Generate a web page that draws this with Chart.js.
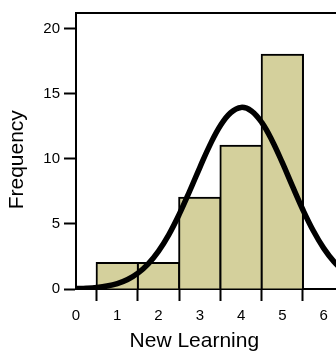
<!DOCTYPE html>
<html>
<head>
<meta charset="utf-8">
<script src="https://cdn.jsdelivr.net/npm/chart.js@4"></script>
<style>
    html, body { margin: 0; padding: 0; background: #fff; }
    #wrap { width: 336px; height: 358px; }
</style>
</head>
<body>
<div id="wrap"><canvas id="histCanvas"></canvas></div>
<script>
// --- Data ---
const binCenters = [1, 2, 3, 4, 5];
const frequencies = [2, 2, 7, 11, 18];

// fitted normal curve, sampled every 0.25
const curveX = [0, 0.25, 0.5, 0.75, 1, 1.25, 1.5, 1.75, 2, 2.25, 2.5, 2.75, 3, 3.25, 3.5, 3.75, 4, 4.25, 4.5, 4.75, 5, 5.25, 5.5, 5.75, 6, 6.25, 6.5];
const curveY = [0.03, 0.06, 0.12, 0.23, 0.42, 0.73, 1.22, 1.93, 2.91, 4.18, 5.73, 7.49, 9.33, 11.09, 12.56, 13.55, 13.95, 13.68, 12.8, 11.41, 9.7, 7.86, 6.07, 4.47, 3.14, 2.1, 1.34];

const xTicks = [0, 1, 2, 3, 4, 5, 6];
const yTicks = [0, 5, 10, 15, 20];

const FONT = "'Liberation Sans', Arial, sans-serif";
const BAR_FILL = "#d4d09c";

// --- Top frame line ---
const framePlugin = {
    id: "frame",
    afterDraw(chart) {
        const { ctx, chartArea } = chart;
        ctx.save();
        ctx.strokeStyle = "#000";
        ctx.lineWidth = 2;
        ctx.beginPath();
        ctx.moveTo(chartArea.left - 1, chartArea.top);
        ctx.lineTo(chartArea.right, chartArea.top);
        ctx.stroke();
        ctx.restore();
    }
};

const keepTicks = list => scale => {
    scale.ticks = list.map(v => ({ value: v }));
};

const ctx = document.getElementById("histCanvas").getContext("2d");
new Chart(ctx, {
    type: "bar",
    data: {
        datasets: [
            {
                type: "line",
                data: curveX.map((x, i) => ({ x, y: curveY[i] })),
                borderColor: "#000",
                borderWidth: 5.5,
                borderCapStyle: "round",
                pointRadius: 0,
                tension: 0.4,
                order: 0
            },
            {
                type: "bar",
                data: binCenters.map((x, i) => ({ x, y: frequencies[i] })),
                backgroundColor: BAR_FILL,
                borderColor: "#000",
                borderWidth: 2,
                inflateAmount: 1,
                barPercentage: 1,
                categoryPercentage: 1,
                order: 1
            }
        ]
    },
    options: {
        responsive: true,
        maintainAspectRatio: false,
        animation: false,
        layout: { padding: { top: 4, right: 0, left: 0, bottom: 0 } },
        plugins: { legend: { display: false }, tooltip: { enabled: false } },
        scales: {
            x: {
                type: "linear",
                min: 0,
                max: 6.3,
                offset: false,
                afterBuildTicks: keepTicks(xTicks),
                afterFit: s => { s.height = 69; },
                border: { display: true, color: "#000", width: 2 },
                grid: { drawOnChartArea: false, drawTicks: true, tickLength: 12, tickWidth: 2, tickColor: "#000" },
                ticks: { color: "#000", font: { family: FONT, size: 15 }, padding: 6, maxRotation: 0 },
                title: {
                    display: true,
                    text: "New Learning    ",
                    color: "#000",
                    font: { family: FONT, size: 21 },
                    padding: { top: 0, bottom: 4 }
                }
            },
            y: {
                min: 0,
                max: 21.2,
                afterBuildTicks: keepTicks(yTicks),
                afterFit: s => { s.width = 76; },
                border: { display: true, color: "#000", width: 2 },
                grid: { drawOnChartArea: false, drawTicks: true, tickLength: 12, tickWidth: 2, tickColor: "#000" },
                ticks: { color: "#000", font: { family: FONT, size: 15 }, padding: 4 },
                title: {
                    display: true,
                    text: "Frequency   ",
                    color: "#000",
                    font: { family: FONT, size: 21 },
                    padding: { top: 5, bottom: 0 }
                }
            }
        }
    },
    plugins: [framePlugin]
});
</script>
</body>
</html>
